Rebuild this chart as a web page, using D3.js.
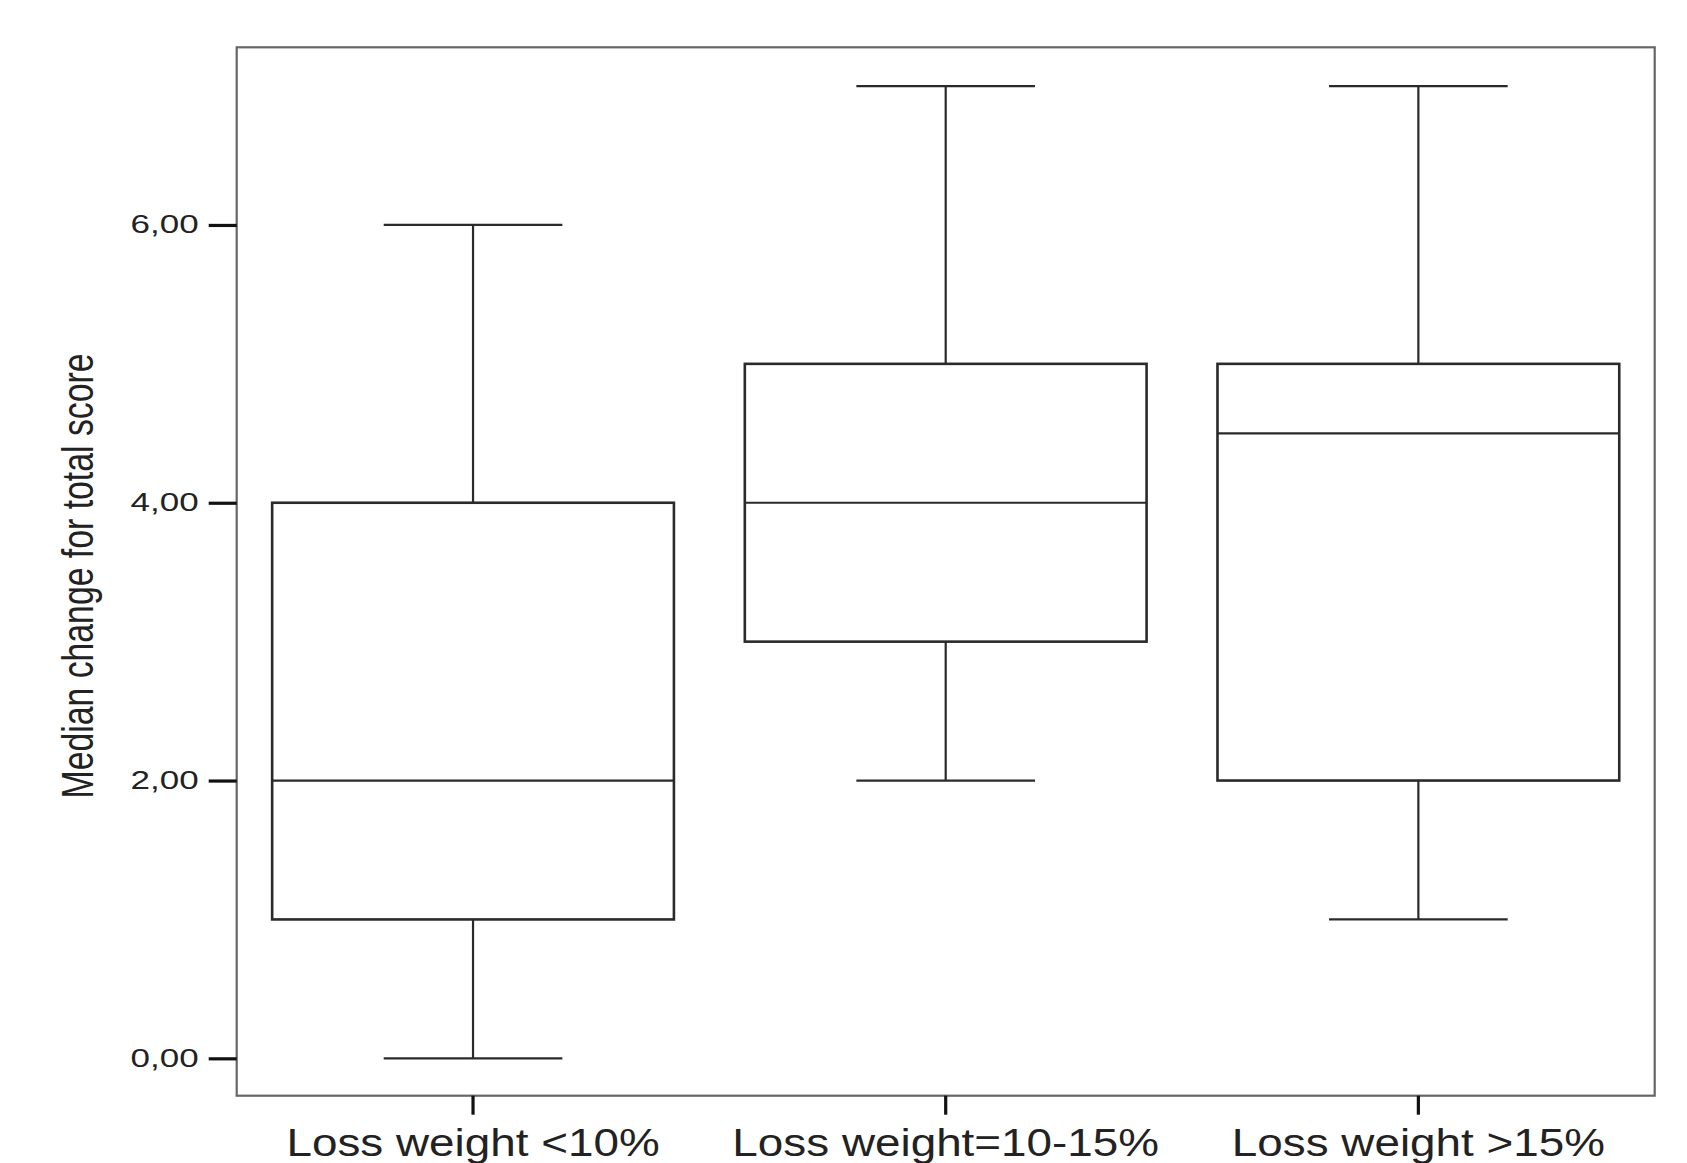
<!DOCTYPE html>
<html>
<head>
<meta charset="utf-8">
<script src="https://cdn.jsdelivr.net/npm/d3@7"></script>
<style>
  body { margin: 0; background: #fff; }
  text { font-family: "Liberation Sans", Arial, sans-serif; fill: #222; }
</style>
</head>
<body>
<svg id="chart" width="1687" height="1163"></svg>
<script>
// datos del grafico
const groups = ["Loss weight <10%", "Loss weight=10-15%", "Loss weight >15%"];
const mins    = [0, 2, 1];
const q1s     = [1, 3, 2];
const medians = [2, 4, 4.5];
const q3s     = [4, 5, 5];
const maxs    = [6, 7, 7];
const yTicks  = [0, 2, 4, 6];

const svg = d3.select("#chart");
const plotLeft = 236.7, plotRight = 1654.7, plotTop = 47.3, plotBottom = 1095.7;

const x = d3.scaleBand().domain(groups).range([plotLeft, plotRight]).padding(0);
const y = d3.scaleLinear().domain([-0.269, 7.279]).range([plotBottom, plotTop]);

const bw = x.bandwidth();
const boxW = bw * 0.85;
const capW = bw * 0.378;

const data = groups.map((g, i) => ({
  g, min: mins[i], q1: q1s[i], med: medians[i], q3: q3s[i], max: maxs[i]
}));

// marco
svg.append("rect")
  .attr("x", plotLeft).attr("y", plotTop)
  .attr("width", plotRight - plotLeft).attr("height", plotBottom - plotTop)
  .attr("fill", "none").attr("stroke", "#666").attr("stroke-width", 2.2);

// cajas
const box = svg.selectAll("g.box").data(data).enter().append("g")
  .attr("class", "box")
  .attr("stroke", "#2a2a2a").attr("stroke-width", 2.2).attr("fill", "none");

const cx = d => x(d.g) + bw / 2;

// bigotes
box.append("line")
  .attr("x1", cx).attr("x2", cx)
  .attr("y1", d => y(d.max)).attr("y2", d => y(d.q3));
box.append("line")
  .attr("x1", cx).attr("x2", cx)
  .attr("y1", d => y(d.q1)).attr("y2", d => y(d.min));
box.append("line")
  .attr("x1", d => cx(d) - capW / 2).attr("x2", d => cx(d) + capW / 2)
  .attr("y1", d => y(d.max)).attr("y2", d => y(d.max));
box.append("line")
  .attr("x1", d => cx(d) - capW / 2).attr("x2", d => cx(d) + capW / 2)
  .attr("y1", d => y(d.min)).attr("y2", d => y(d.min));

box.append("rect")
  .attr("x", d => cx(d) - boxW / 2).attr("width", boxW)
  .attr("y", d => y(d.q3)).attr("height", d => y(d.q1) - y(d.q3))
  .attr("fill", "#fff").attr("stroke-width", 2.6);

box.append("line")
  .attr("x1", d => cx(d) - boxW / 2).attr("x2", d => cx(d) + boxW / 2)
  .attr("y1", d => y(d.med)).attr("y2", d => y(d.med));

// estira el texto en horizontal como el original
function widen(sel, factor) {
  sel.each(function () {
    const w = this.getComputedTextLength();
    d3.select(this).attr("textLength", w * factor).attr("lengthAdjust", "spacingAndGlyphs");
  });
}

// eje y
const fmt = d => d3.format(".2f")(d).replace(".", ",");
const yAxis = svg.append("g")
  .attr("transform", `translate(${plotLeft},0)`)
  .call(d3.axisLeft(y).tickValues(yTicks).tickFormat(fmt).tickSize(28).tickPadding(10));
yAxis.select(".domain").remove();
yAxis.selectAll(".tick line").attr("stroke", "#111").attr("stroke-width", 3.2);
yAxis.selectAll(".tick text")
  .style("font-size", "25px").attr("fill", "#222")
  .call(widen, 1.4);

// eje x
const xAxis = svg.append("g")
  .attr("transform", `translate(0,${plotBottom})`)
  .call(d3.axisBottom(x).tickSize(19).tickPadding(14));
xAxis.select(".domain").remove();
xAxis.selectAll(".tick line").attr("stroke", "#111").attr("stroke-width", 3.2);
xAxis.selectAll(".tick text")
  .style("font-size", "39px").attr("fill", "#222")
  .call(widen, 1.175);

// titulo eje y
svg.append("text")
  .attr("transform", "translate(93,576) rotate(-90)")
  .attr("text-anchor", "middle")
  .attr("textLength", 445).attr("lengthAdjust", "spacingAndGlyphs")
  .style("font-size", "45px")
  .text("Median change for total score");
</script>
</body>
</html>
